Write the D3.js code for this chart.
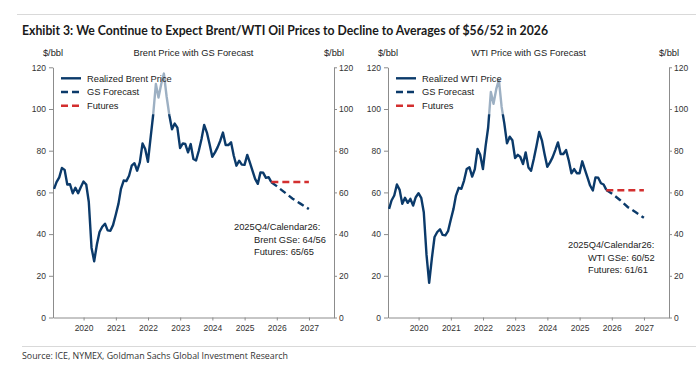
<!DOCTYPE html>
<html>
<head>
<meta charset="utf-8">
<script src="https://cdn.jsdelivr.net/npm/d3@7"></script>
<style>
  body { margin: 0; background: #fff; }
  svg text { font-family: "Liberation Sans", Arial, sans-serif; fill: #222; }
  .axis path, .axis line { stroke: #8c8c8c; }
  .axis text { font-size: 8.5px; fill: #333; font-family: "Liberation Sans", Arial, sans-serif; }
</style>
</head>
<body>
<div id="chart"></div>
<script>
// SVG size
var svgWidth = 696;
var svgHeight = 366;

// monthly averages, Jan 2019 .. Oct 2025 ($/bbl)
var brentRealized = [
  61.7, 64.9, 67.2, 71.7, 70.8, 63.8, 63.9, 59.6, 62.2, 59.6, 62.5, 65.2,
  63.8, 55.5, 33.5, 27.0, 35.0, 41.0, 43.5, 45.0, 41.8, 41.6, 44.3, 49.3,
  54.6, 61.7, 65.7, 65.4, 68.0, 72.8, 74.0, 70.4, 74.4, 83.5, 80.8, 74.7,
  86.5, 97.0, 112.0, 105.5, 112.0, 117.0, 106.0, 97.0, 90.3, 93.0, 91.1, 81.3,
  83.5, 83.2, 79.2, 83.2, 76.0, 75.3, 80.0, 85.6, 92.4, 88.7, 83.2, 77.1,
  79.2, 81.6, 84.8, 88.7, 82.7, 82.7, 84.0, 77.6, 72.8, 75.2, 73.3, 73.2,
  78.0, 74.5, 70.4, 66.5, 64.1, 69.6, 69.4, 67.0, 67.3, 64.9
];
var wtiRealized = [
  52.1, 56.1, 58.5, 63.8, 61.2, 54.5, 57.4, 55.0, 56.9, 53.7, 57.7, 59.6,
  57.4, 50.5, 30.0, 16.6, 28.5, 38.6, 41.0, 42.3, 39.6, 39.4, 41.4, 46.9,
  52.1, 58.5, 62.2, 61.7, 65.7, 71.2, 72.0, 67.6, 71.2, 80.8, 78.1, 71.2,
  82.4, 91.0, 108.2, 102.5, 109.5, 114.0, 101.0, 93.0, 83.5, 86.7, 85.0, 76.5,
  78.0, 77.0, 73.6, 79.2, 72.0, 70.4, 76.0, 82.4, 89.0, 85.0, 78.4, 72.3,
  74.4, 76.8, 80.3, 84.0, 78.4, 78.4, 80.3, 75.3, 69.2, 71.2, 69.2, 69.2,
  74.9, 71.2, 67.2, 63.3, 60.9, 67.2, 67.0, 64.4, 63.8, 61.2
];
var realizedStart = "2019-01";

// forecast / futures path
var outlookMonths = ["2025-10", "2025-12", "2026-03", "2026-06", "2026-09", "2026-12"];
var brentForecast = [64.9, 63.0, 60.0, 57.0, 54.5, 52.0];
var wtiForecast = [61.2, 59.5, 56.5, 53.0, 50.5, 47.8];
var brentFutures = [65, 65, 65, 65, 65, 65];
var wtiFutures = [61, 61, 61, 61, 61, 61];

var yearTicks = [2020, 2021, 2022, 2023, 2024, 2025, 2026, 2027];
var priceTicks = [0, 20, 40, 60, 80, 100, 120];

var brentNote = ["2025Q4/Calendar26:", "Brent GSe: 64/56", "Futures: 65/65"];
var wtiNote = ["2025Q4/Calendar26:", "WTI GSe: 60/52", "Futures: 61/61"];

var navy = "#0b3a6a";
var red = "#d32f2f";

var parseMonth = d3.timeParse("%Y-%m");
// points sit at the end of each month
function monthEnd(d) { return d3.timeDay.offset(d3.timeMonth.offset(d, 1), -1); }

var realizedDates = brentRealized.map((v, i) => monthEnd(d3.timeMonth.offset(parseMonth(realizedStart), i)));
var outlookDates = outlookMonths.map(m => monthEnd(parseMonth(m)));

var svg = d3.select("#chart")
  .append("svg")
  .attr("width", svgWidth)
  .attr("height", svgHeight);

// header
svg.append("line")
  .attr("x1", 17).attr("x2", svgWidth)
  .attr("y1", 14.5).attr("y2", 14.5)
  .attr("stroke", "#d9d9d9");

svg.append("text")
  .attr("x", 22).attr("y", 35)
  .attr("textLength", 526)
  .attr("lengthAdjust", "spacingAndGlyphs")
  .style("font-family", "Lato, 'Open Sans', sans-serif")
  .style("font-weight", "bold")
  .style("font-size", "13px")
  .style("fill", "#1a1a1a")
  .text("Exhibit 3: We Continue to Expect Brent/WTI Oil Prices to Decline to Averages of $56/52 in 2026");

// footer
svg.append("line")
  .attr("x1", 22).attr("x2", svgWidth)
  .attr("y1", 346.5).attr("y2", 346.5)
  .attr("stroke", "#d9d9d9");

svg.append("text")
  .attr("x", 22).attr("y", 359)
  .attr("textLength", 266)
  .attr("lengthAdjust", "spacingAndGlyphs")
  .style("font-family", "'Open Sans', sans-serif")
  .style("font-size", "9.5px")
  .style("fill", "#333")
  .text("Source: ICE, NYMEX, Goldman Sachs Global Investment Research");

var panels = [
  { x0: 53, x1: 334, title: "Brent Price with GS Forecast", legend: "Realized Brent Price",
    realized: brentRealized, forecast: brentForecast, futures: brentFutures,
    note: brentNote, noteX: 234, noteY: 227 },
  { x0: 388, x1: 669, title: "WTI Price with GS Forecast", legend: "Realized WTI Price",
    realized: wtiRealized, forecast: wtiForecast, futures: wtiFutures,
    note: wtiNote, noteX: 568, noteY: 245 }
];

var yTop = 67.3;
var yBottom = 317.5;

var yScale = d3.scaleLinear()
  .domain([0, 120])
  .range([yBottom, yTop]);

panels.forEach(function(p) {
  var xScale = d3.scaleTime()
    .domain([new Date(2019, 0, 19), new Date(2027, 9, 12)])
    .range([p.x0, p.x1]);

  var g = svg.append("g");

  // axes
  g.append("g")
    .attr("class", "axis")
    .attr("transform", `translate(0, ${yBottom})`)
    .call(d3.axisBottom(xScale)
      .tickValues(yearTicks.map(y => new Date(y, 0, 1)))
      .tickFormat(d3.timeFormat("%Y"))
      .tickSize(3)
      .tickSizeOuter(0)
      .tickPadding(4));

  g.append("g")
    .attr("class", "axis")
    .attr("transform", `translate(${p.x0}, 0)`)
    .call(d3.axisLeft(yScale).tickValues(priceTicks).tickSize(4).tickSizeOuter(0).tickPadding(3));

  g.append("g")
    .attr("class", "axis")
    .attr("transform", `translate(${p.x1}, 0)`)
    .call(d3.axisRight(yScale).tickValues(priceTicks).tickSize(3).tickSizeOuter(0).tickPadding(2));

  // unit labels and panel title
  [p.x0, p.x1].forEach(function(x) {
    g.append("text")
      .attr("x", x).attr("y", 56)
      .attr("text-anchor", "middle")
      .style("font-size", "9.3px")
      .text("$/bbl");
  });

  g.append("text")
    .attr("x", (p.x0 + p.x1) / 2).attr("y", 56)
    .attr("text-anchor", "middle")
    .style("font-size", "9.3px")
    .text(p.title);

  // lines
  var realizedLine = d3.line()
    .x((d, i) => xScale(realizedDates[i]))
    .y(d => yScale(d));

  var outlookLine = d3.line()
    .x((d, i) => xScale(outlookDates[i]))
    .y(d => yScale(d));

  g.append("path")
    .datum(p.realized)
    .attr("d", realizedLine)
    .attr("fill", "none")
    .attr("stroke", navy)
    .attr("stroke-width", 2.4)
    .attr("stroke-linejoin", "round");

  g.append("path")
    .datum(p.forecast)
    .attr("d", outlookLine)
    .attr("fill", "none")
    .attr("stroke", navy)
    .attr("stroke-width", 2.4)
    .attr("stroke-dasharray", "7,4");

  g.append("path")
    .datum(p.futures)
    .attr("d", outlookLine)
    .attr("fill", "none")
    .attr("stroke", red)
    .attr("stroke-width", 2.4)
    .attr("stroke-dasharray", "7,4");

  // legend (semi-transparent box fades the line behind it)
  g.append("rect")
    .attr("x", p.x0 + 2).attr("y", yTop + 1)
    .attr("width", 120).attr("height", 46)
    .attr("fill", "#fff")
    .attr("fill-opacity", 0.6);

  var legendItems = [
    { label: p.legend, color: navy, dash: null },
    { label: "GS Forecast", color: navy, dash: "7,4" },
    { label: "Futures", color: red, dash: "7,4" }
  ];

  legendItems.forEach(function(item, i) {
    var ly = 78.3 + i * 13.7;
    g.append("line")
      .attr("x1", p.x0 + 8).attr("x2", p.x0 + 28)
      .attr("y1", ly).attr("y2", ly)
      .attr("stroke", item.color)
      .attr("stroke-width", 2.4)
      .attr("stroke-dasharray", item.dash);
    g.append("text")
      .attr("x", p.x0 + 34).attr("y", ly)
      .attr("dy", "0.35em")
      .style("font-size", "9.3px")
      .text(item.label);
  });

  // annotation
  p.note.forEach(function(line, i) {
    g.append("text")
      .attr("x", i === 0 ? p.noteX : p.noteX + 20)
      .attr("y", p.noteY + i * 12.5)
      .attr("dy", "0.35em")
      .style("font-size", "9.3px")
      .text(line);
  });
});
</script>
</body>
</html>
